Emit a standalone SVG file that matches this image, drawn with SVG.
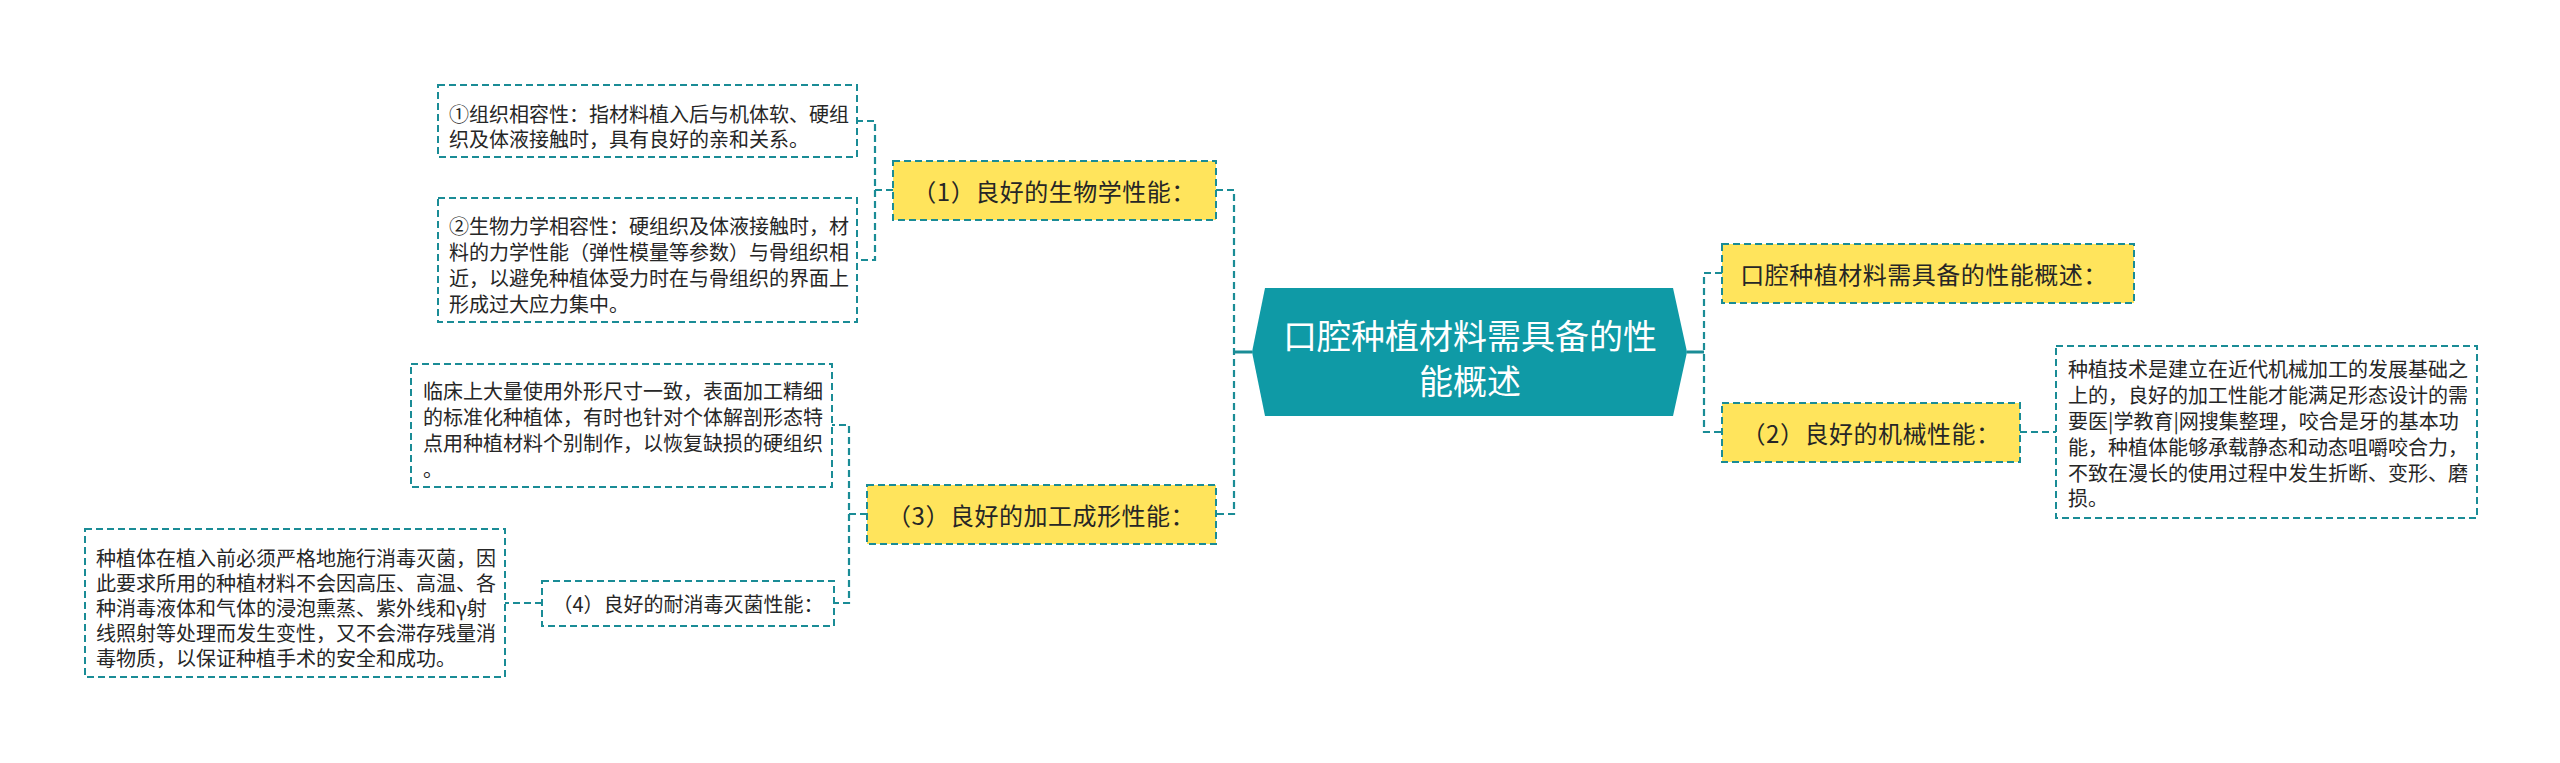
<svg xmlns="http://www.w3.org/2000/svg" width="2560" height="763" viewBox="0 0 2560 763">
<style>
text{font-family:"Noto Sans CJK SC","Noto Sans",sans-serif;fill:#262626;dominant-baseline:central}
.leaf rect{fill:#fff;stroke:#1a8c96;stroke-width:2;stroke-dasharray:7 4}
.leaf text{font-size:20px}
.main rect{fill:#ffe45c;stroke:#1a8c96;stroke-width:2;stroke-dasharray:7 4}
.main text{font-size:24px;text-anchor:middle;letter-spacing:0.5px}
.sub rect{fill:#fff;stroke:#1a8c96;stroke-width:2;stroke-dasharray:7 4}
.sub text{font-size:20px;text-anchor:middle}
.dash{fill:none;stroke:#1a8c96;stroke-width:2.2;stroke-dasharray:7 4}
.solid{fill:none;stroke:#1a8c96;stroke-width:3}
</style>
<rect width="2560" height="763" fill="#fff"/>
<g id="connectors">
<path class="dash" d="M1216,190 H1234 V514 H1216"/>
<path class="solid" d="M1234,352 H1252"/>
<path class="dash" d="M1722,273 H1704 V432 H1722"/>
<path class="solid" d="M1687,352 H1704"/>
<path class="dash" d="M893,190 H875 V121 H857"/>
<path class="dash" d="M875,190 V260 H857"/>
<path class="dash" d="M867,514 H849 V425 H832"/>
<path class="dash" d="M849,514 V603 H834"/>
<path class="dash" d="M542,603 H505"/>
<path class="dash" d="M2020,432 H2056"/>
</g>
<g id="center">
<polygon points="1252,352 1265,288 1673,288 1687,352 1673,416 1265,416" fill="#0f9aa6"/>
<text x="1470" y="334" font-size="34" text-anchor="middle" style="fill:#fff">口腔种植材料需具备的性</text>
<text x="1470" y="379" font-size="34" text-anchor="middle" style="fill:#fff">能概述</text>
</g>
<g id="node1" class="main">
<rect x="893" y="161" width="323" height="59"/>
<text x="1054" y="190">（1）良好的生物学性能：</text>
</g>
<g id="leaf1" class="leaf">
<rect x="438" y="85" width="419" height="72"/>
<text x="449" y="113">①组织相容性：指材料植入后与机体软、硬组</text>
<text x="449" y="138">织及体液接触时，具有良好的亲和关系。</text>
</g>
<g id="leaf2" class="leaf">
<rect x="438" y="198" width="419" height="124"/>
<text x="449" y="225">②生物力学相容性：硬组织及体液接触时，材</text>
<text x="449" y="251">料的力学性能（弹性模量等参数）与骨组织相</text>
<text x="449" y="277">近，以避免种植体受力时在与骨组织的界面上</text>
<text x="449" y="303">形成过大应力集中。</text>
</g>
<g id="node3" class="main">
<rect x="867" y="485" width="349" height="59"/>
<text x="1041" y="514">（3）良好的加工成形性能：</text>
</g>
<g id="leaf3" class="leaf">
<rect x="411" y="364" width="421" height="123"/>
<text x="423" y="390">临床上大量使用外形尺寸一致，表面加工精细</text>
<text x="423" y="416">的标准化种植体，有时也针对个体解剖形态特</text>
<text x="423" y="442">点用种植材料个别制作，以恢复缺损的硬组织</text>
<text x="423" y="468">。</text>
</g>
<g id="node4" class="sub">
<rect x="542" y="581" width="292" height="45"/>
<text x="688" y="603">（4）良好的耐消毒灭菌性能：</text>
</g>
<g id="leaf4" class="leaf">
<rect x="85" y="529" width="420" height="148"/>
<text x="96" y="557">种植体在植入前必须严格地施行消毒灭菌，因</text>
<text x="96" y="582">此要求所用的种植材料不会因高压、高温、各</text>
<text x="96" y="607">种消毒液体和气体的浸泡熏蒸、紫外线和γ射</text>
<text x="96" y="632">线照射等处理而发生变性，又不会滞存残量消</text>
<text x="96" y="657">毒物质，以保证种植手术的安全和成功。</text>
</g>
<g id="nodeA" class="main">
<rect x="1722" y="244" width="412" height="59"/>
<text x="1924" y="273">口腔种植材料需具备的性能概述：</text>
</g>
<g id="node2" class="main">
<rect x="1722" y="403" width="298" height="59"/>
<text x="1871" y="432">（2）良好的机械性能：</text>
</g>
<g id="leafR" class="leaf">
<rect x="2056" y="346" width="421" height="172"/>
<text x="2068" y="368">种植技术是建立在近代机械加工的发展基础之</text>
<text x="2068" y="394">上的，良好的加工性能才能满足形态设计的需</text>
<text x="2068" y="420">要医|学教育|网搜集整理，咬合是牙的基本功</text>
<text x="2068" y="446">能，种植体能够承载静态和动态咀嚼咬合力，</text>
<text x="2068" y="472">不致在漫长的使用过程中发生折断、变形、磨</text>
<text x="2068" y="497">损。</text>
</g>
</svg>
